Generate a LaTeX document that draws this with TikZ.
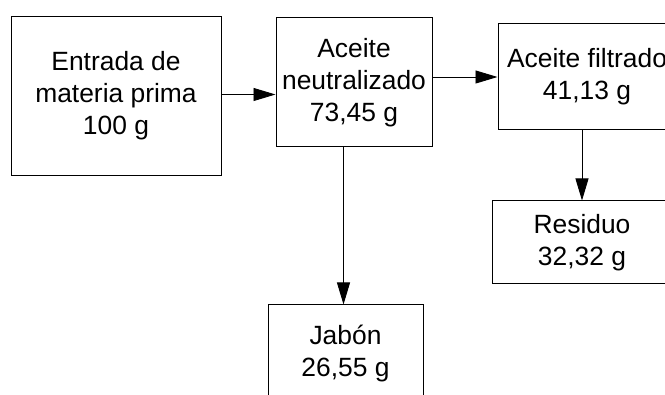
\documentclass[tikz,border=0pt]{standalone}
\usepackage{fontspec}
\setmainfont{Liberation Sans}
\usetikzlibrary{arrows.meta}
\tikzset{
  box/.style={draw=black, line width=1pt, inner sep=0pt, align=center,
    font=\fontsize{26.4}{32}\selectfont},
  flow/.style={draw=black, line width=0.9pt, -{Triangle[length=22pt, width=13pt]}}
}
\begin{document}
\begin{tikzpicture}[x=1pt, y=-1pt]
\useasboundingbox (0,0) rectangle (665,395);
\clip (0,0) rectangle (665,395);
\node[box, minimum width=210pt, minimum height=159pt] (b1) at (116,96) {Entrada de\\materia prima\\100 g};
\node[box, minimum width=156pt, minimum height=129pt] (b2) at (354,82.5) {Aceite\\neutralizado\\73,45 g};
\node[box, minimum width=178pt, minimum height=106pt] (b3) at (587,77) {Aceite filtrado\\41,13 g};
\node[box, minimum width=180pt, minimum height=83pt] (b4) at (582,242.5) {Residuo\\32,32 g};
\node[box, minimum width=155pt, minimum height=97pt] (b5) at (345.5,353.5) {Jabón\\26,55 g};
\draw[flow] ([yshift=1.5pt]b1.east) -- ([yshift=1.5pt]b1.east -| b2.west);
\draw[flow] (b3.west -| b2.east) -- (b3.west);
\draw[flow] (b4.north |- b3.south) -- (b4.north);
\draw[flow] ([xshift=-2pt]b5.north |- b2.south) -- ([xshift=-2pt]b5.north);
\end{tikzpicture}
\end{document}
